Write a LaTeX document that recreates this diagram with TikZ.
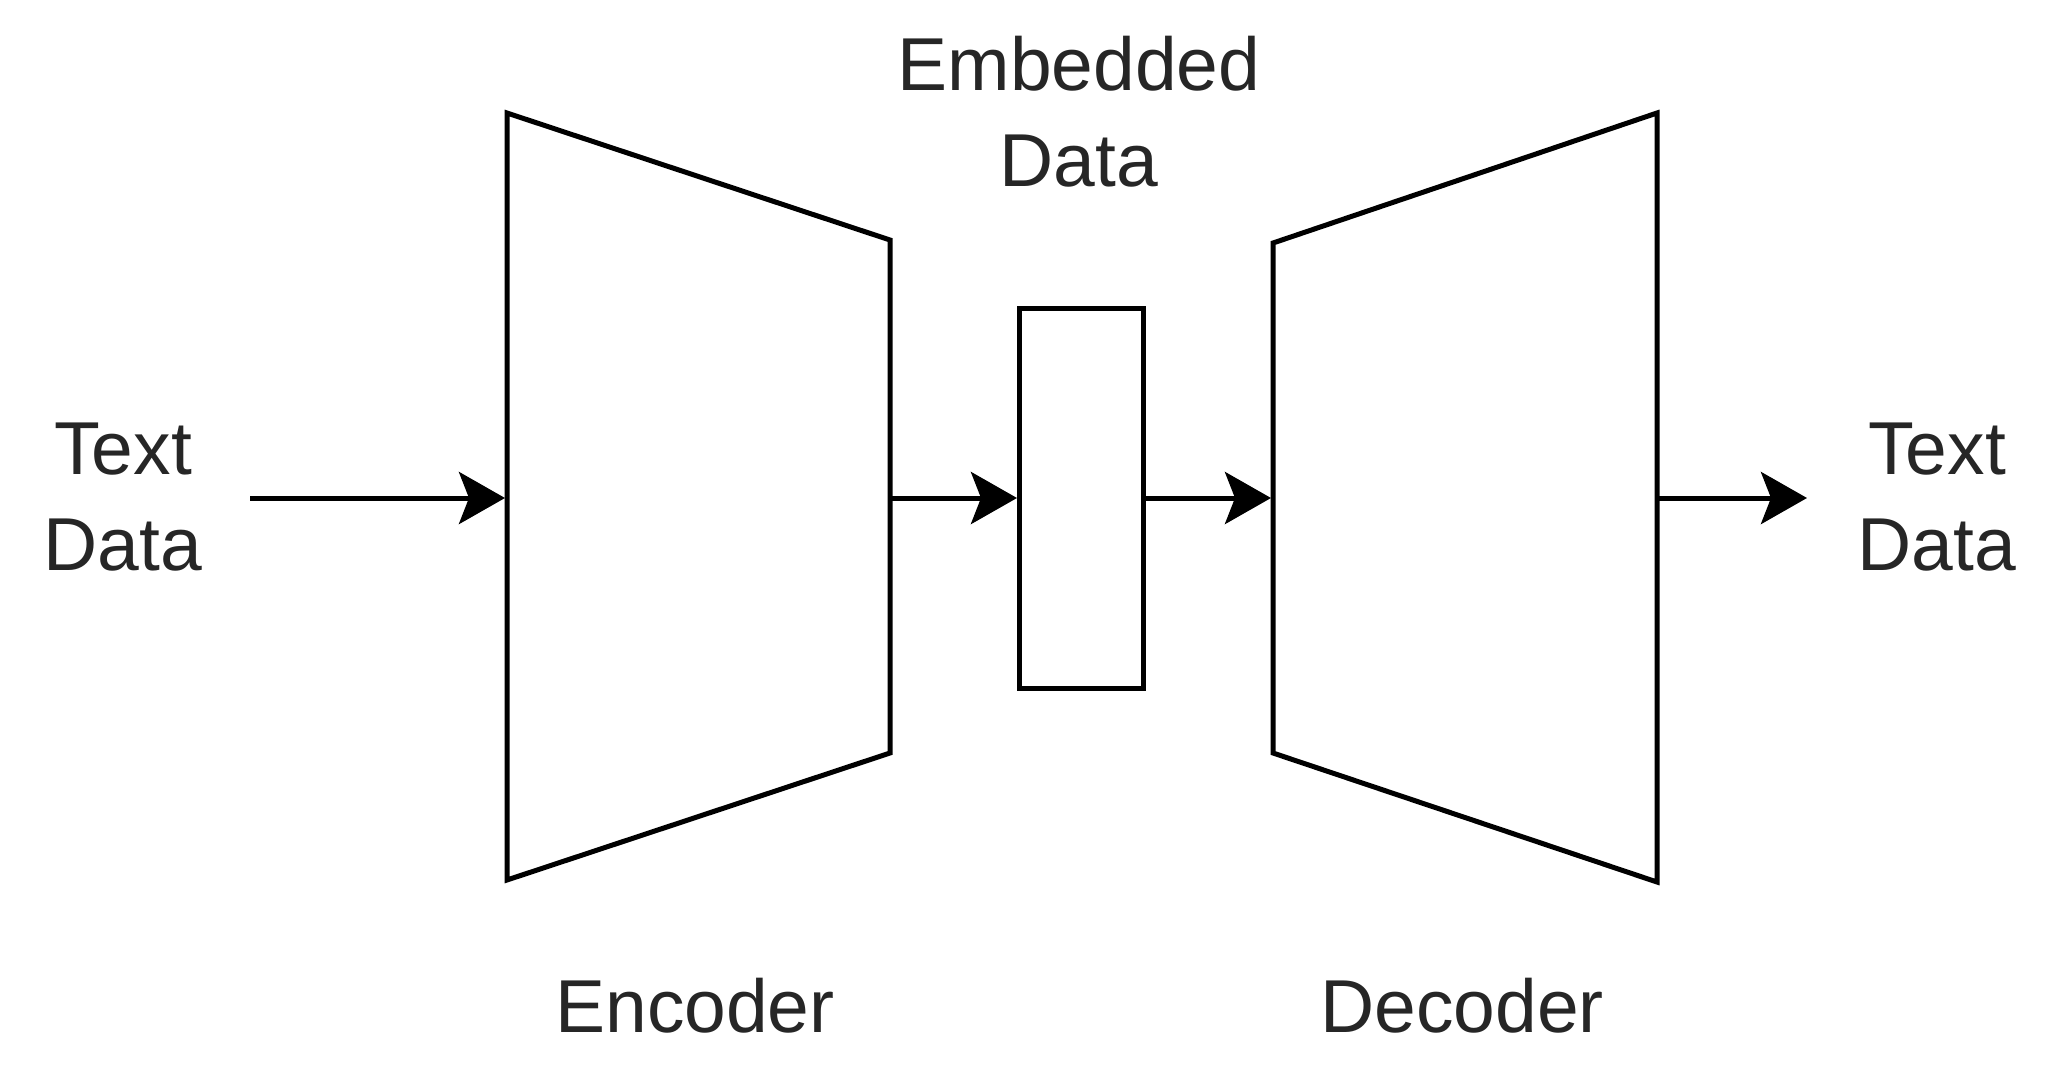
\documentclass[tikz,border=0pt]{standalone}
\usepackage{fontspec}
\setmainfont{Liberation Sans}
\usetikzlibrary{arrows.meta}
\tikzset{
  shapeline/.style={line width=5pt, line join=miter, black},
  flow/.style={line width=5pt, -{Stealth[length=46pt, width=52pt, inset=10pt]}},
  lbl/.style={inner sep=0pt, align=center, font=\fontsize{75}{96}\selectfont, text=black!85},
}
\begin{document}
\begin{tikzpicture}[x=1pt, y=-1pt]
\useasboundingbox (0,0) rectangle (2065,1074);
% encoder trapezoid
\draw[shapeline] (507,113) -- (890,240) -- (890,753) -- (507,880) -- cycle;
% decoder trapezoid
\draw[shapeline] (1273,243) -- (1657,113) -- (1657,882) -- (1273,753) -- cycle;
% connection points
\coordinate (start) at (250,498);
\coordinate (encin) at (505,498);
\coordinate (encout) at (890,498);
\coordinate (decin) at (1271,498);
\coordinate (decout) at (1657,498);
\coordinate (finish) at (1807,498);
% embedded data box
\node[draw, line width=5pt, inner sep=0pt, minimum width=124pt, minimum height=380pt] (emb) at (1081.5,498) {};
% labels
\node[lbl] (inlbl) at (123,497) {Text\\Data};
\node[lbl] (outlbl) at (1937,497) {Text\\Data};
\node[lbl] (emblbl) at (1079,112) {Embedded\\Data};
\node[lbl, anchor=base] (enclbl) at (695,1032) {Encoder};
\node[lbl, anchor=base] (declbl) at (1462,1032) {Decoder};
% arrows
\draw[flow] (start) -- (encin);
\draw[flow] (encout) -- (emb.west);
\draw[flow] (emb.east) -- (decin);
\draw[flow] (decout) -- (finish);
\end{tikzpicture}
\end{document}
